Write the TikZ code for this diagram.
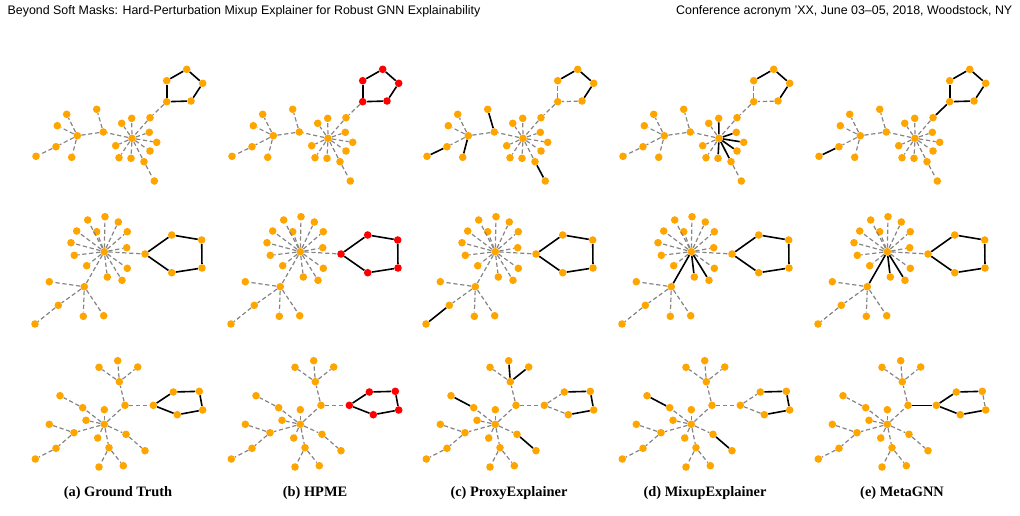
\documentclass[tikz,border=0pt]{standalone}
\usepackage{fontspec}
\setmainfont{Liberation Serif}
\setsansfont{Liberation Sans}
\definecolor{ndorange}{HTML}{FFA500}
\definecolor{ndred}{HTML}{FF0000}
\definecolor{edgegray}{HTML}{858585}
\tikzset{
  nd/.style={circle,fill=ndorange,inner sep=0pt,minimum size=5.7pt},
  rd/.style={nd,fill=ndred},
  dedge/.style={draw=edgegray,line width=0.9pt,dash pattern=on 3.2pt off 2pt},
  sedge/.style={draw=black,line width=1.2pt},
  capt/.style={font=\bfseries\fontsize{10.8}{12}\selectfont},
  head/.style={font=\sffamily\fontsize{9.3}{11}\selectfont},
  % row 1 edge defaults
  Ap12/.style=sedge, Ap23/.style=sedge, Ap34/.style=sedge, Ap45/.style=sedge, Ap51/.style=sedge,
  Ap5a/.style=dedge, Aah/.style=dedge,
  Ahl1/.style=dedge, Ahl2/.style=dedge, Ahl3/.style=dedge, Ahl4/.style=dedge, Ahl5/.style=dedge,
  Ahl6/.style=dedge, Ahl7/.style=dedge, Ahl8/.style=dedge, Ahl9/.style=dedge,
  Alt/.style=dedge, Ahb/.style=dedge, Abbl/.style=dedge, Abc/.style=dedge,
  Acc1/.style=dedge, Acc2/.style=dedge, Acc3/.style=dedge, Acc4/.style=dedge, Ace/.style=dedge,
  % row 2 edge defaults
  Bq12/.style=sedge, Bq23/.style=sedge, Bq34/.style=sedge, Bq45/.style=sedge, Bq51/.style=sedge,
  Bhq1/.style=dedge,
  Bhm1/.style=dedge, Bhm2/.style=dedge, Bhm3/.style=dedge, Bhm4/.style=dedge, Bhm5/.style=dedge,
  Bhm6/.style=dedge, Bhm7/.style=dedge, Bhm8/.style=dedge, Bhm9/.style=dedge, Bhm10/.style=dedge,
  Bhm11/.style=dedge, Bhm12/.style=dedge, Bhm13/.style=dedge,
  Bhd/.style=dedge, Bdd1/.style=dedge, Bdd2/.style=dedge, Bdd3/.style=dedge, Bdd4/.style=dedge, Bde/.style=dedge,
  % row 3 edge defaults
  Cr12/.style=sedge, Cr23/.style=sedge, Cr34/.style=sedge, Cr45/.style=sedge, Cr51/.style=sedge,
  Che/.style=dedge, Cef/.style=dedge, Cff1/.style=dedge, Cff2/.style=dedge, Cff3/.style=dedge,
  Cer1/.style=dedge, Chg/.style=dedge, Cgg1/.style=dedge,
  Chn1/.style=dedge, Chn2/.style=dedge, Chn3/.style=dedge,
  Chk/.style=dedge, Ckk1/.style=dedge, Ckk2/.style=dedge, Ckk3/.style=dedge,
  Chs/.style=dedge, Css1/.style=dedge, Css2/.style=dedge, Chu/.style=dedge, Cuu1/.style=dedge
}
% ---------- row 1 ----------
\newcommand\graphrowone[3]{%
\begin{scope}[shift={(#2,0)}]
\node[#3] (#1p1) at (166.7,80.7) {};
\node[#3] (#1p2) at (186.7,69.3) {};
\node[#3] (#1p3) at (202.7,83.3) {};
\node[#3] (#1p4) at (191,101) {};
\node[#3] (#1p5) at (166.7,101.7) {};
\node[nd] (#1a) at (150,117.7) {};
\node[nd] (#1h) at (132,138.3) {};
\node[nd] (#1l1) at (131.7,118.3) {};
\node[nd] (#1l2) at (121.7,123.3) {};
\node[nd] (#1l3) at (149.3,132.3) {};
\node[nd] (#1l4) at (156.7,142.3) {};
\node[nd] (#1l5) at (150,151) {};
\node[nd] (#1l6) at (144,161.7) {};
\node[nd] (#1l7) at (131,158.3) {};
\node[nd] (#1l8) at (119,157.7) {};
\node[nd] (#1l9) at (115.7,145.7) {};
\node[nd] (#1t) at (154.3,181) {};
\node[nd] (#1b) at (103.3,132) {};
\node[nd] (#1bl) at (96.7,109.3) {};
\node[nd] (#1c) at (77.3,135.7) {};
\node[nd] (#1c1) at (66.7,114.3) {};
\node[nd] (#1c2) at (57.3,125.7) {};
\node[nd] (#1c3) at (56,146.7) {};
\node[nd] (#1c4) at (71.7,157.3) {};
\node[nd] (#1e) at (36,156.3) {};
\draw[Ap12] (#1p1) -- (#1p2);
\draw[Ap23] (#1p2) -- (#1p3);
\draw[Ap34] (#1p3) -- (#1p4);
\draw[Ap45] (#1p4) -- (#1p5);
\draw[Ap51] (#1p5) -- (#1p1);
\draw[Ap5a] (#1p5) -- (#1a);
\draw[Aah] (#1a) -- (#1h);
\draw[Ahl1] (#1h) -- (#1l1);
\draw[Ahl2] (#1h) -- (#1l2);
\draw[Ahl3] (#1h) -- (#1l3);
\draw[Ahl4] (#1h) -- (#1l4);
\draw[Ahl5] (#1h) -- (#1l5);
\draw[Ahl6] (#1h) -- (#1l6);
\draw[Ahl7] (#1h) -- (#1l7);
\draw[Ahl8] (#1h) -- (#1l8);
\draw[Ahl9] (#1h) -- (#1l9);
\draw[Alt] (#1l6) -- (#1t);
\draw[Ahb] (#1h) -- (#1b);
\draw[Abbl] (#1b) -- (#1bl);
\draw[Abc] (#1b) -- (#1c);
\draw[Acc1] (#1c) -- (#1c1);
\draw[Acc2] (#1c) -- (#1c2);
\draw[Acc3] (#1c) -- (#1c3);
\draw[Acc4] (#1c) -- (#1c4);
\draw[Ace] (#1c3) -- (#1e);
\end{scope}}
% ---------- row 2 ----------
\newcommand\graphrowtwo[3]{%
\begin{scope}[shift={(#2,0)}]
\node[nd] (#1h) at (104.3,251.7) {};
\node[nd] (#1m1) at (87.7,220) {};
\node[nd] (#1m2) at (105,216.7) {};
\node[nd] (#1m3) at (118.3,222) {};
\node[nd] (#1m4) at (127.3,231.7) {};
\node[nd] (#1m5) at (76.7,231) {};
\node[nd] (#1m6) at (96.7,231.7) {};
\node[nd] (#1m7) at (71,242.7) {};
\node[nd] (#1m8) at (126.7,247.7) {};
\node[nd] (#1m9) at (74.3,255.3) {};
\node[nd] (#1m10) at (86.7,265.7) {};
\node[nd] (#1m11) at (127.3,268.3) {};
\node[nd] (#1m12) at (107.3,277) {};
\node[nd] (#1m13) at (122,280.3) {};
\node[#3] (#1q1) at (145,254) {};
\node[#3] (#1q2) at (171.7,235) {};
\node[#3] (#1q3) at (201.7,240) {};
\node[#3] (#1q4) at (202,268) {};
\node[#3] (#1q5) at (171.7,272.7) {};
\node[nd] (#1d) at (84.3,286.7) {};
\node[nd] (#1d1) at (49.3,281.7) {};
\node[nd] (#1d2) at (58.3,305.3) {};
\node[nd] (#1d3) at (83.3,316.3) {};
\node[nd] (#1d4) at (103.7,315.7) {};
\node[nd] (#1de) at (35,324) {};
\draw[Bq12] (#1q1) -- (#1q2);
\draw[Bq23] (#1q2) -- (#1q3);
\draw[Bq34] (#1q3) -- (#1q4);
\draw[Bq45] (#1q4) -- (#1q5);
\draw[Bq51] (#1q5) -- (#1q1);
\draw[Bhq1] (#1h) -- (#1q1);
\draw[Bhm1] (#1h) -- (#1m1);
\draw[Bhm2] (#1h) -- (#1m2);
\draw[Bhm3] (#1h) -- (#1m3);
\draw[Bhm4] (#1h) -- (#1m4);
\draw[Bhm5] (#1h) -- (#1m5);
\draw[Bhm6] (#1h) -- (#1m6);
\draw[Bhm7] (#1h) -- (#1m7);
\draw[Bhm8] (#1h) -- (#1m8);
\draw[Bhm9] (#1h) -- (#1m9);
\draw[Bhm10] (#1h) -- (#1m10);
\draw[Bhm11] (#1h) -- (#1m11);
\draw[Bhm12] (#1h) -- (#1m12);
\draw[Bhm13] (#1h) -- (#1m13);
\draw[Bhd] (#1h) -- (#1d);
\draw[Bdd1] (#1d) -- (#1d1);
\draw[Bdd2] (#1d) -- (#1d2);
\draw[Bdd3] (#1d) -- (#1d3);
\draw[Bdd4] (#1d) -- (#1d4);
\draw[Bde] (#1d2) -- (#1de);
\end{scope}}
% ---------- row 3 ----------
\newcommand\graphrowthree[3]{%
\begin{scope}[shift={(#2,0)}]
\node[nd] (#1h) at (104.3,424.3) {};
\node[nd] (#1e) at (125,405.3) {};
\node[nd] (#1f) at (119.3,381.7) {};
\node[nd] (#1f1) at (99,367.3) {};
\node[nd] (#1f2) at (117.7,360.7) {};
\node[nd] (#1f3) at (137.7,367) {};
\node[#3] (#1r1) at (153.3,405.3) {};
\node[#3] (#1r2) at (173.3,392) {};
\node[#3] (#1r3) at (199.3,391.3) {};
\node[#3] (#1r4) at (202.7,410) {};
\node[#3] (#1r5) at (177.3,414.7) {};
\node[nd] (#1g) at (82.7,407.7) {};
\node[nd] (#1g1) at (60,395.7) {};
\node[nd] (#1n1) at (104.3,409.7) {};
\node[nd] (#1n2) at (86,420.3) {};
\node[nd] (#1n3) at (97.7,438) {};
\node[nd] (#1k) at (74,432.7) {};
\node[nd] (#1k1) at (49.3,424.3) {};
\node[nd] (#1k2) at (56,448.3) {};
\node[nd] (#1k3) at (35.3,459) {};
\node[nd] (#1s) at (109,447.7) {};
\node[nd] (#1s1) at (99,467) {};
\node[nd] (#1s2) at (123.3,465.7) {};
\node[nd] (#1u) at (126,434.3) {};
\node[nd] (#1u1) at (145,450.7) {};
\draw[Cr12] (#1r1) -- (#1r2);
\draw[Cr23] (#1r2) -- (#1r3);
\draw[Cr34] (#1r3) -- (#1r4);
\draw[Cr45] (#1r4) -- (#1r5);
\draw[Cr51] (#1r5) -- (#1r1);
\draw[Che] (#1h) -- (#1e);
\draw[Cef] (#1e) -- (#1f);
\draw[Cff1] (#1f) -- (#1f1);
\draw[Cff2] (#1f) -- (#1f2);
\draw[Cff3] (#1f) -- (#1f3);
\draw[Cer1] (#1e) -- (#1r1);
\draw[Chg] (#1h) -- (#1g);
\draw[Cgg1] (#1g) -- (#1g1);
\draw[Chn1] (#1h) -- (#1n1);
\draw[Chn2] (#1h) -- (#1n2);
\draw[Chn3] (#1h) -- (#1n3);
\draw[Chk] (#1h) -- (#1k);
\draw[Ckk1] (#1k) -- (#1k1);
\draw[Ckk2] (#1k) -- (#1k2);
\draw[Ckk3] (#1k2) -- (#1k3);
\draw[Chs] (#1h) -- (#1s);
\draw[Css1] (#1s) -- (#1s1);
\draw[Css2] (#1s) -- (#1s2);
\draw[Chu] (#1h) -- (#1u);
\draw[Cuu1] (#1u) -- (#1u1);
\end{scope}}
\begin{document}
\begin{tikzpicture}[x=0.75pt,y=-0.75pt]
\useasboundingbox (0,0) rectangle (1020,515);
% headers
\node[head,anchor=west] (hleft) at (3,11) {Beyond Soft Masks: Hard-Perturbation Mixup Explainer for Robust GNN Explainability};
\node[head,anchor=east] (hright) at (1017,11) {Conference acronym ’XX, June 03–05, 2018, Woodstock, NY};
% (a) ground truth
\graphrowone{aA}{0}{nd}
\graphrowtwo{aB}{0}{nd}
\graphrowthree{aC}{0}{nd}
% (b) HPME
\graphrowone{bA}{196}{rd}
\graphrowtwo{bB}{196}{rd}
\graphrowthree{bC}{196}{rd}
% (c) ProxyExplainer
\begin{scope}[Ap45/.style=dedge, Ap51/.style=dedge, Abbl/.style=sedge, Ace/.style=sedge, Acc4/.style=sedge, Alt/.style=sedge]
\graphrowone{cA}{391}{nd}
\end{scope}
\begin{scope}[Bde/.style=sedge]
\graphrowtwo{cB}{391}{nd}
\end{scope}
\begin{scope}[Cff2/.style=sedge, Cff3/.style=sedge, Cgg1/.style=sedge, Cuu1/.style=sedge, Cr12/.style=dedge, Cr51/.style=dedge]
\graphrowthree{cC}{391}{nd}
\end{scope}
% (d) MixupExplainer
\begin{scope}[Ap45/.style=dedge, Ap51/.style=dedge, Ahl1/.style=sedge, Ahl3/.style=sedge, Ahl4/.style=sedge, Ahl5/.style=sedge, Ahl6/.style=sedge, Ahl7/.style=sedge]
\graphrowone{dA}{587}{nd}
\end{scope}
\begin{scope}[Bhd/.style=sedge, Bhm12/.style=sedge, Bhm13/.style=sedge]
\graphrowtwo{dB}{587}{nd}
\end{scope}
\begin{scope}[Cgg1/.style=sedge, Cuu1/.style=sedge, Cr12/.style=dedge, Cr51/.style=dedge]
\graphrowthree{dC}{587}{nd}
\end{scope}
% (e) MetaGNN
\begin{scope}[Ap5a/.style=sedge, Ace/.style=sedge]
\graphrowone{eA}{783}{nd}
\end{scope}
\begin{scope}[Bhd/.style=sedge, Bhm12/.style=sedge, Bhm13/.style=sedge]
\graphrowtwo{eB}{783}{nd}
\end{scope}
\begin{scope}[Cer1/.style=sedge, Cr34/.style=dedge]
\graphrowthree{eC}{783}{nd}
\end{scope}
% captions
\node[capt] (capa) at (118,493) {(a) Ground Truth};
\node[capt] (capb) at (315,493) {(b) HPME};
\node[capt] (capc) at (509,493) {(c) ProxyExplainer};
\node[capt] (capd) at (705,493) {(d) MixupExplainer};
\node[capt] (cape) at (902,493) {(e) MetaGNN};
\end{tikzpicture}
\end{document}
